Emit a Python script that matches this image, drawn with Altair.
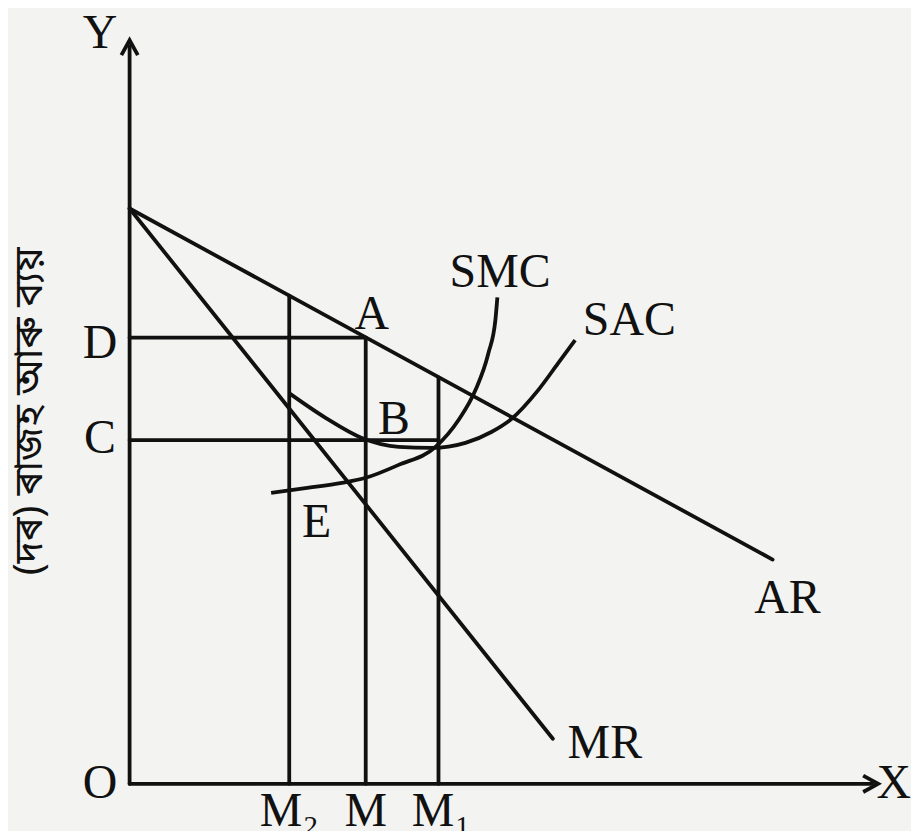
import altair as alt
import pandas as pd

# ---- data (arbitrary units: quantity 0-100, price 0-100) ----
# straight lines: AR and MR start from the same point on the Y axis
ar_x = [0.0, 86.6]
ar_y = [78.0, 30.4]
mr_x = [0.0, 57.0]
mr_y = [78.0, 6.1]

# price levels D and C (horizontal guides) and output levels M2, M, M1
level_names = ["D", "C"]
level_y = [60.5, 46.6]
level_x_end = [31.8, 41.6]

out_names = ["M₂", "M", "M₁"]
out_x = [21.5, 31.8, 41.6]
out_top = [66.2, 60.5, 55.1]

# SAC curve
sac_x = [21.48, 26.44, 31.28, 36.24, 40.67, 45.23, 48.72, 51.41, 55.03, 57.72, 60.0]
sac_y = [52.97, 49.59, 46.89, 45.68, 45.54, 46.22, 47.70, 49.46, 53.38, 57.03, 60.14]

# SMC curve
smc_x = [19.06, 24.16, 28.59, 31.81, 36.24, 41.21, 44.30, 46.58, 48.32, 49.26, 49.53]
smc_y = [39.46, 40.14, 40.81, 41.49, 43.24, 45.68, 49.32, 53.38, 58.38, 62.84, 65.95]

# axes
axis_len_x = 100.0
axis_len_y = 100.0

# labels (middle-anchored)
label_text = ["Y", "X", "O", "D", "C", "A", "B", "E", "SMC", "SAC", "AR", "MR"]
label_x = [-4.0, 102.9, -4.0, -4.0, -4.0, 32.6, 35.6, 25.2, 49.9, 67.3, 88.6, 64.0]
label_y = [101.6, 0.0, 0.0, 59.6, 46.8, 63.6, 49.3, 35.3, 69.2, 62.8, 25.0, 5.4]

# output labels under the X axis (baseline-anchored)
out_label_x = [21.5, 31.8, 42.0]
out_label_y = [-5.7, -5.7, -5.7]

y_title = "(দৰ) ৰাজহ আৰু ব্যয়"

# ---- scales ----
xs = alt.Scale(domain=[0, 100], range=[122, 867], clamp=False, nice=False, zero=False)
ys = alt.Scale(domain=[0, 100], range=[777, 37], clamp=False, nice=False, zero=False)

INK = "#111111"
SW = 3.8
FONT = "Liberation Serif"
FS = 48

segs = []
segs.append({"x": 0, "y": 0, "x2": 0, "y2": axis_len_y})
segs.append({"x": 0, "y": 0, "x2": axis_len_x, "y2": 0})
segs.append({"x": ar_x[0], "y": ar_y[0], "x2": ar_x[1], "y2": ar_y[1]})
segs.append({"x": mr_x[0], "y": mr_y[0], "x2": mr_x[1], "y2": mr_y[1]})
for yy, xe in zip(level_y, level_x_end):
    segs.append({"x": 0, "y": yy, "x2": xe, "y2": yy})
for xx, tp in zip(out_x, out_top):
    segs.append({"x": xx, "y": 0, "x2": xx, "y2": tp})
seg_df = pd.DataFrame(segs)

X = alt.X("x:Q", scale=xs, axis=None)
Y = alt.Y("y:Q", scale=ys, axis=None)

rules = alt.Chart(seg_df).mark_rule(color=INK, strokeWidth=SW, strokeCap="round").encode(
    x=X, y=Y, x2="x2:Q", y2="y2:Q",
)

curve_df = pd.concat([
    pd.DataFrame({"x": sac_x, "y": sac_y, "curve": "SAC", "o": range(len(sac_x))}),
    pd.DataFrame({"x": smc_x, "y": smc_y, "curve": "SMC", "o": range(len(smc_x))}),
])
curves = alt.Chart(curve_df).mark_line(color=INK, strokeWidth=SW, interpolate="monotone").encode(
    x=X, y=Y, detail="curve:N", order="o:Q",
)

# arrow heads at axis ends
arrow_df = pd.DataFrame({"x": [0, axis_len_x], "y": [axis_len_y, 0], "ang": [0, 90]})
arrows = alt.Chart(arrow_df).mark_point(
    shape="M -0.55 0.6 L 0 -0.4 L 0.55 0.6", filled=False, color=INK, strokeWidth=SW, size=900, opacity=1
).encode(
    x=X, y=Y, angle=alt.Angle("ang:Q", scale=None),
)

lab_df = pd.DataFrame({"t": label_text, "x": label_x, "y": label_y})
labels = alt.Chart(lab_df).mark_text(font=FONT, fontSize=FS, color=INK, align="center", baseline="middle").encode(
    x=X, y=Y, text="t:N",
)

out_df = pd.DataFrame({"t": out_names, "x": out_label_x, "y": out_label_y})
out_labels = alt.Chart(out_df).mark_text(font=FONT, fontSize=FS, color=INK, align="center", baseline="alphabetic").encode(
    x=X, y=Y, text="t:N",
)

ytitle = alt.Chart(pd.DataFrame({"t": [y_title], "x": [-13.4], "y": [50.5]})).mark_text(
    font="Noto Sans Bengali, Noto Serif Bengali, Lohit Bengali, sans-serif", fontSize=40, color=INK,
    angle=270, align="center", baseline="middle"
).encode(
    x=X, y=Y, text="t:N",
)

chart = alt.layer(rules, curves, arrows, labels, out_labels, ytitle).properties(
    width=906, height=823, autosize=alt.AutoSizeParams(type="none"), padding=0,
    background="#f3f3f1",
).configure_view(stroke=None)

chart.save("out.html", embed_options={"renderer": "svg", "actions": False})
